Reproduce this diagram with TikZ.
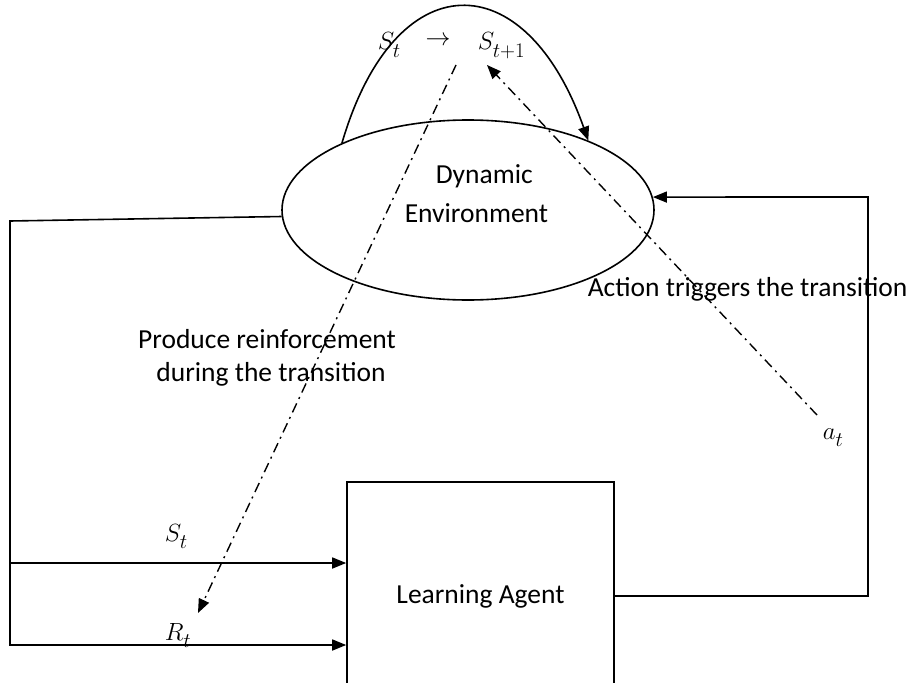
\documentclass[tikz,border=0pt]{standalone}
\usepackage{fontspec}
\setmainfont{Carlito}
\usetikzlibrary{shapes.geometric,arrows.meta}

% subscript set a little lower than usual
\newcommand\dropsub[1]{_{\raisebox{-4pt}{$\scriptstyle #1$}}}

\begin{document}
\begin{tikzpicture}[x=1pt,y=-1pt,
    line width=1.6pt,
    txt/.style={font=\fontsize{27.5}{32}\selectfont, inner sep=0pt},
    sym/.style={font=\fontsize{31}{34}\selectfont, inner sep=0pt},
    tip/.style={-{Triangle[length=14pt,width=11pt]}},
    dashdot/.style={dash pattern=on 10pt off 5pt on 2pt off 5pt, line width=1.4pt}]
  \clip (0,0) rectangle (909,682);
  \fill[white] (0,0) rectangle (909,682);

  % the two main blocks
  \node[draw, ellipse, minimum width=372pt, minimum height=180pt, inner sep=0pt] (env) at (468,210) {};
  \node[draw, rectangle, minimum width=267pt, minimum height=228pt, inner sep=0pt,
        txt] (agent) at (480.5,596) {Learning Agent};

  \node[txt, anchor=base west] (dyn) at (435,183) {Dynamic};
  \node[txt, anchor=base west] (envtxt) at (404,222) {Environment};

  % state transition arc over the environment
  \draw[tip] (env.152) .. controls (395,-38) and (525,-38) .. (env.30);
  \node[sym, anchor=base west] (s1) at (377,50) {$S\dropsub{t}$};
  \node[sym] (arr) at (438,41) {$\rightarrow$};
  \node[sym, anchor=base west] (s2) at (477,50) {$S\dropsub{t+1}$};

  % state and reward fed back to the agent
  \coordinate (tl) at (10,221);
  \coordinate (bl) at (10,645);
  \coordinate (sl) at (10,563);
  \draw[tip] (env.182) -- (tl) -- (bl) -- (bl -| agent.west);
  \draw[tip] (sl) -- (sl -| agent.west);
  \node[sym, anchor=base west] (st) at (164,541) {$S\dropsub{t}$};
  \node[sym, anchor=base west] (rt) at (164,640) {$R\dropsub{t}$};

  % action from the agent to the environment
  \coordinate (rc) at (868,197);
  \draw[tip] (agent.east) -| (rc) -- (env.4);

  % dash-dotted annotations
  \coordinate (rs) at (456,65);
  \coordinate (re) at (198,613);
  \draw[dashdot, tip] (rs) -- (re);
  \coordinate (as) at (817,415);
  \coordinate (ae) at (487,65);
  \draw[dashdot, tip] (as) -- (ae);
  \node[sym, anchor=base west] (at) at (822,439) {$a\dropsub{t}$};

  \node[txt, anchor=base west] (act) at (587,296) {Action triggers the transition};
  \node[txt, anchor=base] (prod) at (267,348) {Produce reinforcement};
  \node[txt, anchor=base] (dur) at (271,381) {during the transition};
\end{tikzpicture}
\end{document}
